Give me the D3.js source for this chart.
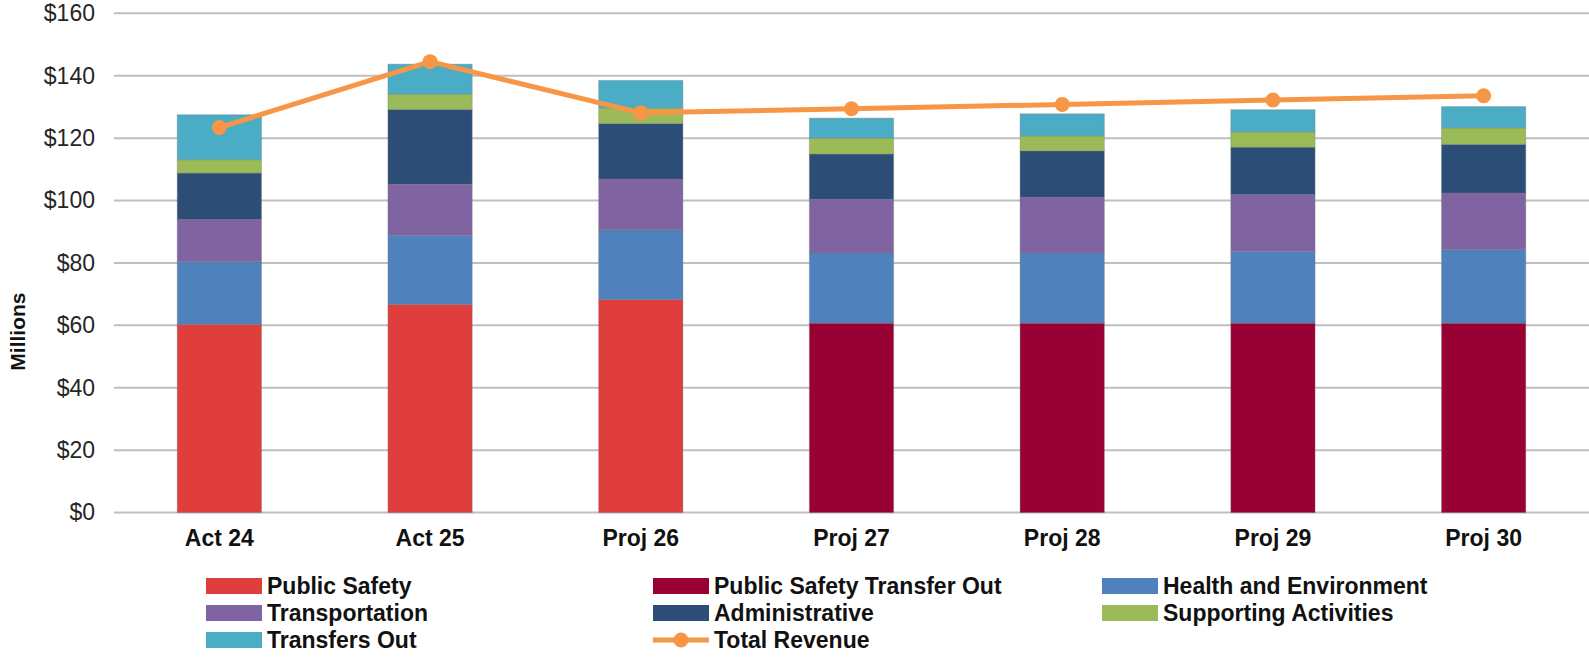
<!DOCTYPE html>
<html>
<head>
<meta charset="utf-8">
<script src="https://cdn.jsdelivr.net/npm/d3@7.9.0/dist/d3.min.js"></script>
<style>
  html, body { margin: 0; padding: 0; background: #fff; }
  svg { display: block; font-family: 'Liberation Sans', Arial, sans-serif; }
</style>
</head>
<body>
<svg id="chart" width="1589" height="657"></svg>
<script>
// values in $ millions
const categories = ['Act 24', 'Act 25', 'Proj 26', 'Proj 27', 'Proj 28', 'Proj 29', 'Proj 30'];
const publicSafety = [60.3, 66.7, 68.3, 0, 0, 0, 0];
const publicSafetyTransferOut = [0, 0, 0, 60.7, 60.7, 60.7, 60.7];
const healthEnvironment = [20.1, 22.1, 22.3, 22.5, 22.5, 23.0, 23.6];
const transportation = [13.5, 16.4, 16.3, 17.2, 17.9, 18.2, 18.1];
const administrative = [14.9, 24.0, 17.8, 14.5, 14.8, 15.2, 15.6];
const supportingActivities = [4.3, 4.9, 5.0, 5.1, 4.8, 4.9, 5.3];
const transfersOut = [14.4, 9.6, 8.8, 6.4, 7.1, 7.1, 6.8];
const totalRevenue = [123.4, 144.5, 128.1, 129.4, 130.8, 132.2, 133.6];
const yTicks = [0, 20, 40, 60, 80, 100, 120, 140, 160];

const series = [
  { key: 'Public Safety', values: publicSafety, color: '#E03D3D' },
  { key: 'Public Safety Transfer Out', values: publicSafetyTransferOut, color: '#990033' },
  { key: 'Health and Environment', values: healthEnvironment, color: '#4F81BD' },
  { key: 'Transportation', values: transportation, color: '#8064A2' },
  { key: 'Administrative', values: administrative, color: '#2C4D75' },
  { key: 'Supporting Activities', values: supportingActivities, color: '#9BBB59' },
  { key: 'Transfers Out', values: transfersOut, color: '#4BACC6' }
];
const lineColor = '#F79646';

const rows = categories.map((c, i) => {
  const row = { category: c };
  series.forEach((s) => { row[s.key] = s.values[i]; });
  return row;
});

const svg = d3.select('#chart');

const x = d3.scaleBand()
  .domain(categories)
  .range([114, 1589])
  .paddingInner(0.6)
  .paddingOuter(0.3);

const y = d3.scaleLinear()
  .domain([0, 160])
  .range([512.6, 13.3]);

// gridlines
svg.append('g')
  .selectAll('line')
  .data(yTicks)
  .join('line')
  .attr('x1', 114)
  .attr('x2', 1589)
  .attr('y1', (d) => y(d))
  .attr('y2', (d) => y(d))
  .attr('stroke', '#BFBFBF')
  .attr('stroke-width', 2);

// y axis labels
const yAxis = svg.append('g')
  .attr('transform', 'translate(114,0)')
  .call(d3.axisLeft(y).tickValues(yTicks).tickSize(0).tickPadding(19).tickFormat((d) => `$${d}`));
yAxis.select('.domain').remove();
yAxis.selectAll('text')
  .attr('font-size', 23)
  .attr('font-family', "'Liberation Sans', Arial, sans-serif")
  .attr('fill', '#262626');

// x axis labels
const xAxis = svg.append('g')
  .attr('transform', `translate(0,${y(0)})`)
  .call(d3.axisBottom(x).tickSize(0).tickPadding(17));
xAxis.select('.domain').remove();
xAxis.selectAll('text')
  .attr('font-size', 23)
  .attr('font-weight', 'bold')
  .attr('font-family', "'Liberation Sans', Arial, sans-serif")
  .attr('fill', '#111');

svg.append('text')
  .attr('transform', `translate(25,${y(58)}) rotate(-90)`)
  .attr('text-anchor', 'middle')
  .attr('font-size', 21)
  .attr('font-weight', 'bold')
  .attr('fill', '#111')
  .text('Millions');

// stacked bars
const stacked = d3.stack().keys(series.map((s) => s.key))(rows);

svg.append('g')
  .selectAll('g')
  .data(stacked)
  .join('g')
  .attr('fill', (d, i) => series[i].color)
  .selectAll('rect')
  .data((d) => d.filter((p) => p[1] - p[0] > 0))
  .join('rect')
  .attr('x', (d) => x(d.data.category))
  .attr('width', x.bandwidth())
  .attr('y', (d) => y(d[1]))
  .attr('height', (d) => y(d[0]) - y(d[1]))
  .attr('stroke', 'rgba(120,120,120,0.35)')
  .attr('stroke-width', 1);

// total revenue line
const line = d3.line()
  .x((d, i) => x(categories[i]) + x.bandwidth() / 2)
  .y((d) => y(d));

svg.append('path')
  .datum(totalRevenue)
  .attr('d', line)
  .attr('fill', 'none')
  .attr('stroke', lineColor)
  .attr('stroke-width', 5)
  .attr('stroke-linejoin', 'round');

svg.append('g')
  .selectAll('circle')
  .data(totalRevenue)
  .join('circle')
  .attr('cx', (d, i) => x(categories[i]) + x.bandwidth() / 2)
  .attr('cy', (d) => y(d))
  .attr('r', 7.5)
  .attr('fill', lineColor);

// legend
const legendItems = series.map((s) => ({ label: s.key, color: s.color, type: 'bar' }));
legendItems.push({ label: 'Total Revenue', color: lineColor, type: 'line' });

const colX = [206, 653, 1102];
const rowY = [586, 613, 640];

const legend = svg.append('g')
  .selectAll('g')
  .data(legendItems)
  .join('g')
  .attr('transform', (d, i) => `translate(${colX[i % 3]},${rowY[Math.floor(i / 3)]})`);

legend.filter((d) => d.type === 'bar')
  .append('rect')
  .attr('x', 0)
  .attr('y', -8)
  .attr('width', 56)
  .attr('height', 16)
  .attr('fill', (d) => d.color);

const lineItem = legend.filter((d) => d.type === 'line');
lineItem.append('line')
  .attr('x1', 0)
  .attr('x2', 56)
  .attr('stroke', lineColor)
  .attr('stroke-width', 5);
lineItem.append('circle')
  .attr('cx', 28)
  .attr('r', 7.5)
  .attr('fill', lineColor);

legend.append('text')
  .attr('x', 61)
  .attr('dy', '0.36em')
  .attr('font-size', 23)
  .attr('font-weight', 'bold')
  .attr('fill', '#111')
  .text((d) => d.label);
</script>
</body>
</html>
